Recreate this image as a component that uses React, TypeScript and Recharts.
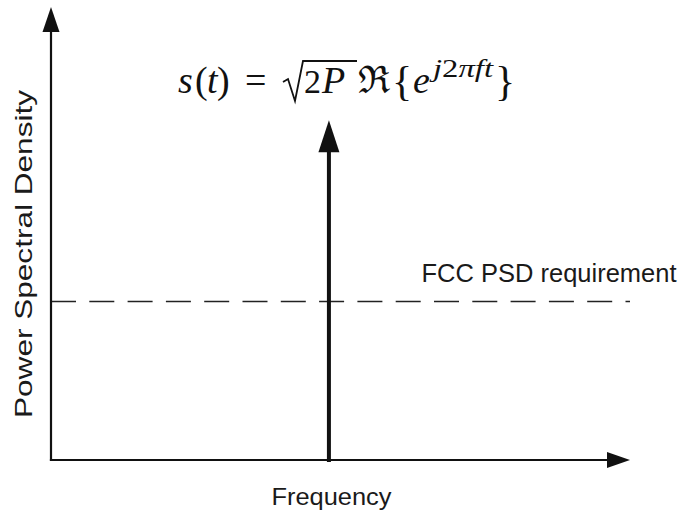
import { LineChart, XAxis, YAxis, ReferenceLine, Customized } from 'recharts'

// normalised axes, no units in the sketch
const frequencyRange = [0, 10]
const psdRange = [0, 10]

// single carrier tone and the FCC mask level
const carrierFrequency = [4.8]
const carrierPsd = [7.5]
const fccPsdLimit = [3.5]

const xLabel = 'Frequency'
const yLabel = 'Power Spectral Density'
const limitLabel = 'FCC PSD requirement'

const data = carrierFrequency.map((f, i) => ({ freq: f, psd: carrierPsd[i] }))

const INK = '#111'
const SANS = '"Liberation Sans", Arial, Helvetica, sans-serif'
const SERIF = '"Liberation Serif", "DejaVu Serif", serif'

const arrow = (width: number, headLen: number, headWidth: number) => (props: any) => {
  const { x1, y1, x2, y2 } = props
  const dx = x2 - x1
  const dy = y2 - y1
  const len = Math.hypot(dx, dy) || 1
  const ux = dx / len
  const uy = dy / len
  const bx = x2 - ux * headLen
  const by = y2 - uy * headLen
  const px = (-uy * headWidth) / 2
  const py = (ux * headWidth) / 2
  return (
    <g>
      <line x1={x1} y1={y1} x2={bx + ux} y2={by + uy} stroke={INK} strokeWidth={width} strokeLinecap="square" />
      <polygon points={`${x2},${y2} ${bx + px},${by + py} ${bx - px},${by - py}`} fill={INK} />
    </g>
  )
}

function Formula() {
  const base = 93
  const fs = 38
  return (
    <g fill={INK} fontFamily={SERIF}>
      <text x={178} y={base} fontSize={fs} fontStyle="italic">s</text>
      <text x={195} y={base} fontSize={fs}>(</text>
      <text x={207} y={base} fontSize={fs} fontStyle="italic">t</text>
      <text x={217} y={base} fontSize={fs}>)</text>
      <text x={245} y={base} fontSize={fs}>=</text>
      <path d="M283,82 L288,79 L295,101 L303,61 L357,61" fill="none" stroke={INK} strokeWidth={1.8} strokeLinejoin="miter" />
      <text x={304} y={base} fontSize={34}>2</text>
      <text x={322} y={base} fontSize={fs} fontStyle="italic">P</text>
      <text x={358} y={base} fontSize={fs} fontFamily='"DejaVu Serif", serif'>ℜ</text>
      <text x={392} y={base + 2} fontSize={42}>{'{'}</text>
      <text x={413} y={base} fontSize={fs} fontStyle="italic">e</text>
      <text x={433} y={77} fontSize={26} textLength={60} lengthAdjust="spacingAndGlyphs">
        <tspan fontStyle="italic">j</tspan>
        <tspan>2</tspan>
        <tspan fontStyle="italic">πft</tspan>
      </text>
      <text x={495} y={base + 2} fontSize={42}>{'}'}</text>
    </g>
  )
}

function Labels() {
  return (
    <g fill="#1a1a1a" fontFamily={SANS}>
      <Formula />
      <text x={421.5} y={281.5} fontSize={25} textLength={255} lengthAdjust="spacingAndGlyphs">
        {limitLabel}
      </text>
      <text x={271.5} y={504.5} fontSize={24} textLength={120} lengthAdjust="spacingAndGlyphs">
        {xLabel}
      </text>
      <text
        x={0}
        y={0}
        fontSize={24}
        textAnchor="middle"
        transform="translate(31.5,254) rotate(-90)"
        textLength={328}
        lengthAdjust="spacingAndGlyphs"
      >
        {yLabel}
      </text>
    </g>
  )
}

export default function App() {
  return (
    <div style={{ position: 'absolute', left: 0, top: 0, width: 689, height: 513, background: '#fff' }}>
      <LineChart width={689} height={513} data={data} margin={{ top: 7, right: 59, bottom: 53, left: 51 }}>
        <XAxis type="number" dataKey="freq" domain={frequencyRange} hide allowDataOverflow />
        <YAxis type="number" dataKey="psd" domain={psdRange} hide allowDataOverflow />

        {/* FCC mask */}
        <ReferenceLine
          y={fccPsdLimit[0]}
          stroke="#222"
          strokeWidth={1.5}
          strokeDasharray="25 13.3"
          ifOverflow="extendDomain"
        />

        {/* axes with arrow heads */}
        <ReferenceLine
          segment={[{ x: frequencyRange[0], y: psdRange[0] }, { x: frequencyRange[0], y: psdRange[1] }]}
          shape={arrow(2.2, 25, 17)}
        />
        <ReferenceLine
          segment={[{ x: frequencyRange[0], y: psdRange[0] }, { x: frequencyRange[1], y: psdRange[0] }]}
          shape={arrow(2.2, 23, 16)}
        />

        {/* the carrier tone */}
        {data.map((d) => (
          <ReferenceLine
            key={d.freq}
            segment={[{ x: d.freq, y: psdRange[0] }, { x: d.freq, y: d.psd }]}
            shape={arrow(4, 32, 21)}
          />
        ))}

        <Customized component={Labels} />
      </LineChart>
    </div>
  )
}
